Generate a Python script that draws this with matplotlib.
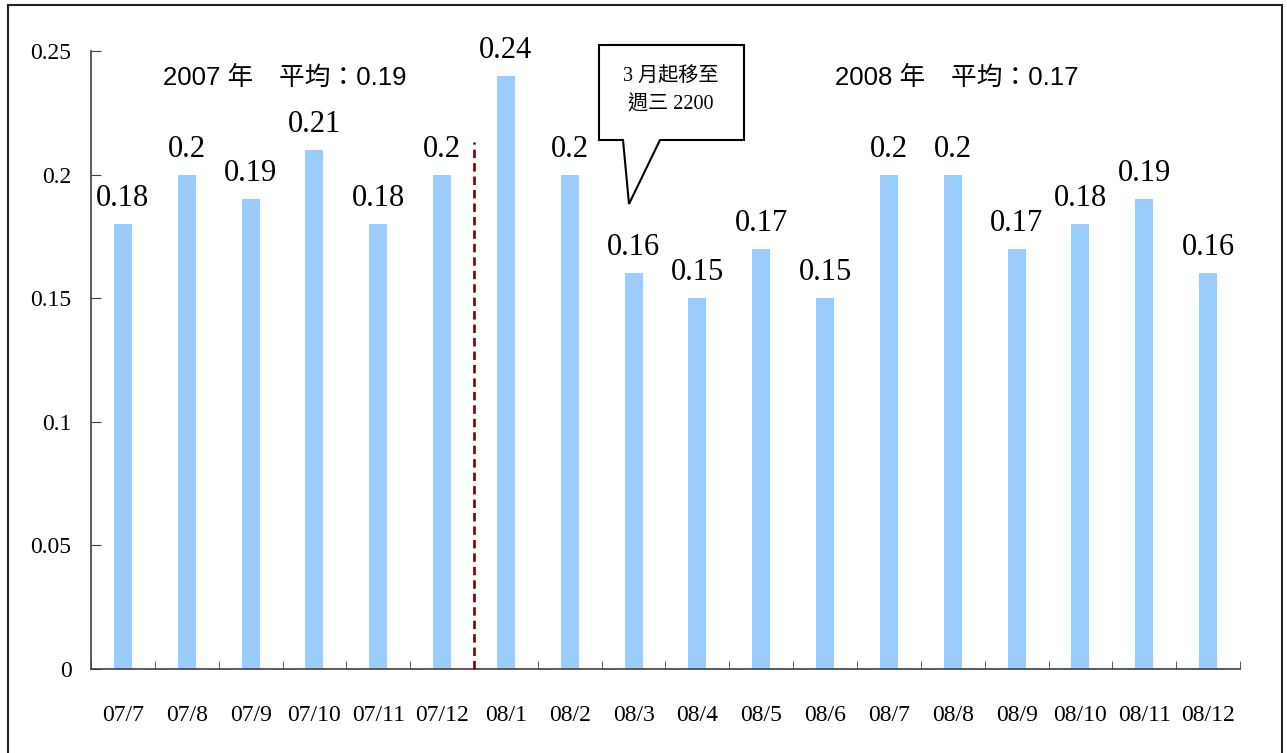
import matplotlib
matplotlib.use('Agg')
import matplotlib.pyplot as plt
from matplotlib.patches import Rectangle, Polygon
import numpy as np

# 資料
months = ['07/7', '07/8', '07/9', '07/10', '07/11', '07/12',
          '08/1', '08/2', '08/3', '08/4', '08/5', '08/6',
          '08/7', '08/8', '08/9', '08/10', '08/11', '08/12']
values = [0.18, 0.2, 0.19, 0.21, 0.18, 0.2,
          0.24, 0.2, 0.16, 0.15, 0.17, 0.15,
          0.2, 0.2, 0.17, 0.18, 0.19, 0.16]
y_ticks = [0, 0.05, 0.1, 0.15, 0.2, 0.25]
y_tick_labels = ['0', '0.05', '0.1', '0.15', '0.2', '0.25']
avg_2007 = 0.19
avg_2008 = 0.17
divider_top = 0.213   # 虛線高度
callout_lines = ['3 月起移至', '週三 2200']

SERIF = ['Liberation Serif', 'Noto Sans CJK TC']
SANS = ['Liberation Sans', 'Noto Sans CJK TC']
BAR_COLOR = '#99CCFF'
W, H = 1287, 753

fig = plt.figure(figsize=(W / 100, H / 100), dpi=100)
ax = fig.add_axes([91 / W, 1 - 669 / H, (1240 - 91) / W, (669 - 51) / H])

x = np.arange(len(months))
ax.bar(x, values, width=0.28, color=BAR_COLOR, zorder=2)

for xi, v in zip(x, values):
    ax.annotate(f'{v:g}', (xi, v), xytext=(0, 13), textcoords='offset points',
                ha='center', va='baseline', fontsize=22, family=SERIF)

# 2007/2008 分隔虛線
split = months.index('08/1') - 0.5
ax.plot([split, split], [0, divider_top], color='#800000', lw=1.9,
        linestyle=(0, (3.2, 1.9)), zorder=3)

ax.set_xlim(-0.5, len(months) - 0.5)
ax.set_ylim(0, 0.25)
ax.set_yticks(y_ticks)
ax.set_yticklabels(y_tick_labels, family=SERIF, fontsize=17)
ax.set_xticks(x)
ax.set_xticklabels(months, family=SERIF, fontsize=17)
ax.set_xticks(np.arange(len(months) + 1) - 0.5, minor=True)
ax.tick_params(axis='x', which='major', length=0, pad=26)
ax.tick_params(axis='x', which='minor', direction='in', length=6, color='#404040')
ax.tick_params(axis='y', direction='in', length=7, pad=14, color='#404040')

for side in ['top', 'right']:
    ax.spines[side].set_visible(False)
for side in ['left', 'bottom']:
    ax.spines[side].set_color('#404040')
    ax.spines[side].set_linewidth(1.2)

# 年度平均
fig.text(163 / W, 1 - 78 / H, f'2007 年　平均：{avg_2007:g}', family=SANS,
         fontsize=18.5, va='center', ha='left')
fig.text(835 / W, 1 - 78 / H, f'2008 年　平均：{avg_2008:g}', family=SANS,
         fontsize=18.5, va='center', ha='left')

# 對話框
pts = [(599, 45), (744, 45), (744, 140), (660, 140), (629, 204), (623, 140), (599, 140)]
fig.patches.append(Polygon([(px / W, 1 - py / H) for px, py in pts], closed=True,
                           transform=fig.transFigure, facecolor='white',
                           edgecolor='black', lw=1.5, zorder=5))
fig.text(671 / W, 1 - 76 / H, callout_lines[0], family=SERIF, fontsize=14.5,
         ha='center', va='center', zorder=6)
fig.text(671 / W, 1 - 105 / H, callout_lines[1], family=SERIF, fontsize=14.5,
         ha='center', va='center', zorder=6)

# 外框
fig.patches.append(Rectangle((8 / W, -0.01), (1282 - 8) / W, 1.01 - 5 / H,
                             transform=fig.transFigure, fill=False,
                             edgecolor='#222222', lw=1.5))

plt.savefig('out.png', dpi=100)
plt.close()
